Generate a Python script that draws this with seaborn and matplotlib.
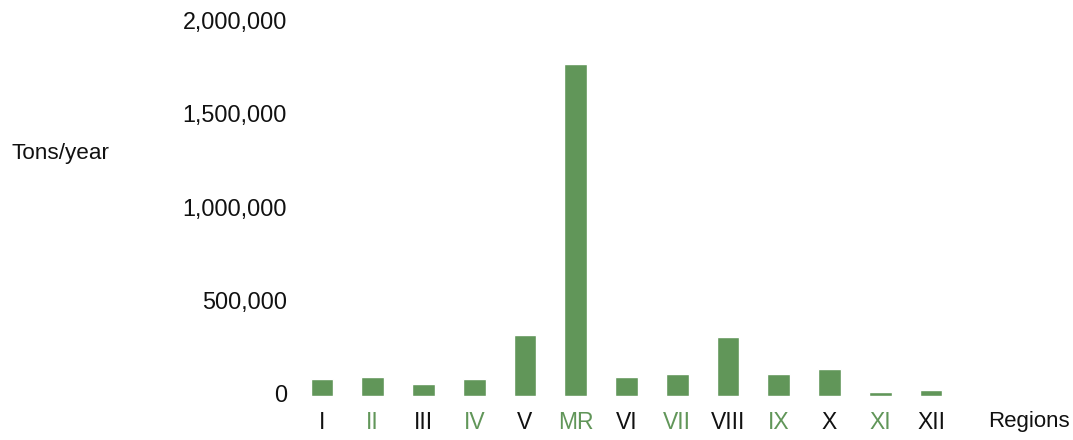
import matplotlib
matplotlib.use("Agg")
import matplotlib.pyplot as plt
import matplotlib.transforms as mtransforms
import seaborn as sns
import pandas as pd

regions = ["I", "II", "III", "IV", "V", "MR", "VI", "VII", "VIII", "IX", "X", "XI", "XII"]
tons_per_year = [90000, 100000, 65000, 90000, 325000, 1780000, 100000, 120000,
                 315000, 120000, 145000, 20000, 32000]
y_ticks = [0, 500000, 1000000, 1500000, 2000000]
y_tick_labels = ["0", "500,000", "1,000,000", "1,500,000", "2,000,000"]

GREEN = "#619659"

sns.set_theme(style="white")
plt.rcParams["font.family"] = ["Liberation Sans", "DejaVu Sans"]

df = pd.DataFrame({"region": regions, "tons": tons_per_year})

W, H = 1073, 440
fig = plt.figure(figsize=(W / 100, H / 100), dpi=100)
left_px, right_px = 296.6, 956.4
bottom_px, top_px = 396, 23
ax = fig.add_axes([left_px / W, (H - bottom_px) / H,
                   (right_px - left_px) / W, (bottom_px - top_px) / H])

sns.barplot(data=df, x="region", y="tons", color=GREEN, saturation=1,
            width=0.45, ax=ax)

ax.set_xlim(-0.5, len(regions) - 0.5)
ax.set_ylim(0, 2000000)
ax.set_yticks(y_ticks)
ax.set_yticklabels(y_tick_labels)
ax.set_xlabel("")
ax.set_ylabel("")
for s in ax.spines.values():
    s.set_visible(False)
ax.tick_params(axis="both", length=0, colors="#111111")
ax.tick_params(axis="y", pad=7, labelsize=16.8)
ax.tick_params(axis="x", pad=11, labelsize=16.5)

offset = mtransforms.ScaledTranslation(0, 3 / 100, fig.dpi_scale_trans)
for lbl in ax.get_yticklabels():
    lbl.set_transform(lbl.get_transform() + offset)

for i, lbl in enumerate(ax.get_xticklabels()):
    lbl.set_color(GREEN if i % 2 == 1 else "#111111")

fig.text(988 / W, 1 - 421 / H, "Regions", fontsize=16, color="#111111",
         ha="left", va="center")
fig.text(12 / W, 1 - 154 / H, "Tons/year", fontsize=16.2, color="#111111",
         ha="left", va="center")

fig.savefig("out.png", dpi=100)
